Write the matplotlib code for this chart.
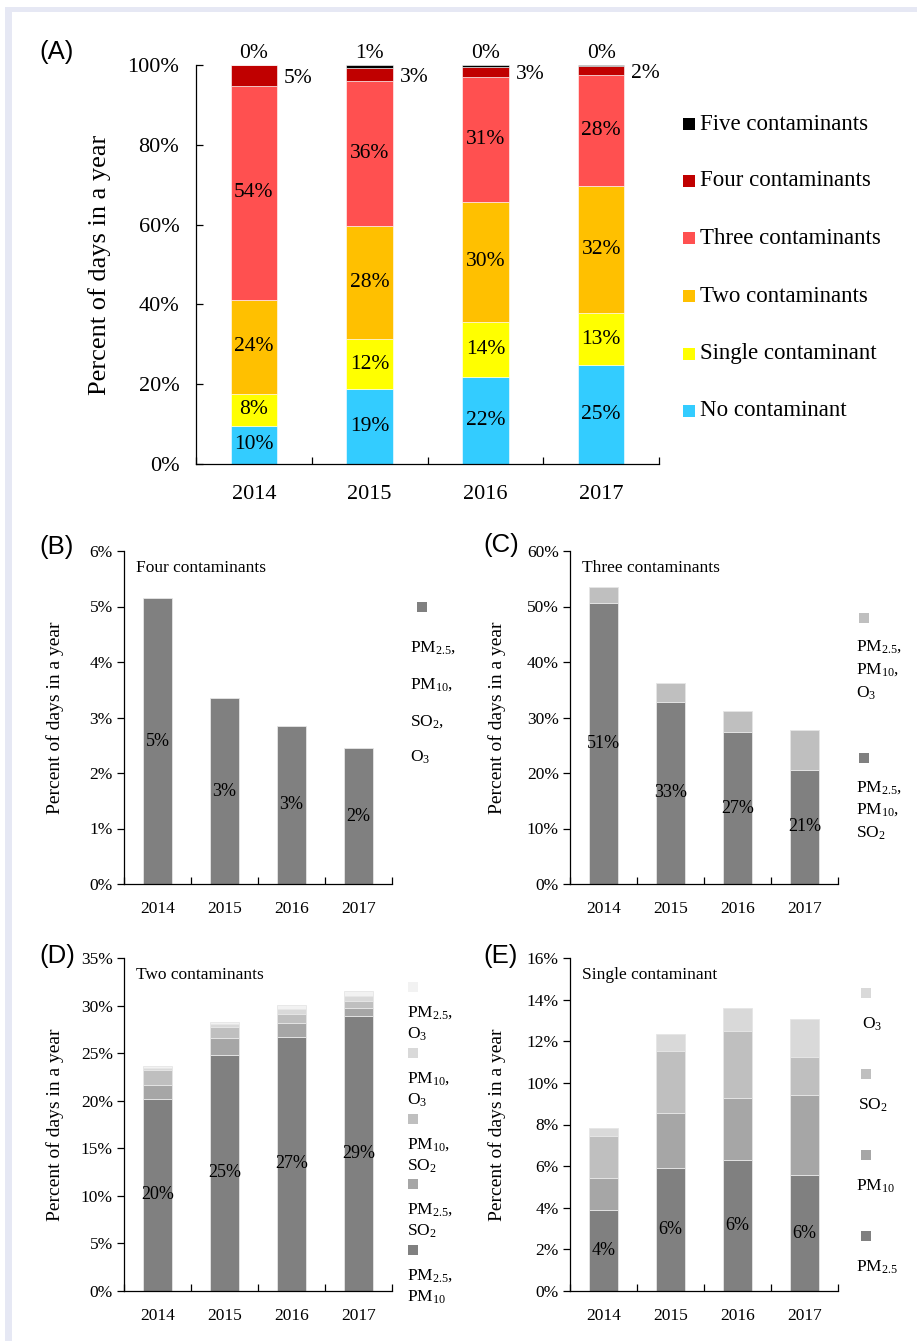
import matplotlib.pyplot as plt
import numpy as np
from matplotlib.patches import Rectangle
from matplotlib.ticker import PercentFormatter

plt.rcParams['font.family'] = 'Liberation Serif'
plt.rcParams['mathtext.default'] = 'regular'

years = ['2014', '2015', '2016', '2017']

# (A) share of days in each year by number of contaminants (%)
no_cont = [9.6, 18.8, 21.9, 24.7]
single_cont = [8.0, 12.5, 13.7, 13.2]
two_cont = [23.6, 28.3, 30.1, 31.8]
three_cont = [53.6, 36.4, 31.3, 27.7]
four_cont = [5.15, 3.2, 2.6, 2.45]
five_cont = [0.05, 0.8, 0.3, 0.15]

# (B) four contaminants
four_pm25_pm10_so2_o3 = [5.15, 3.35, 2.85, 2.45]

# (C) three contaminants
three_pm25_pm10_so2 = [50.6, 32.8, 27.3, 20.6]
three_pm25_pm10_o3 = [3.0, 3.4, 3.9, 7.1]

# (D) two contaminants
two_pm25_pm10 = [20.2, 24.85, 26.7, 28.95]
two_pm25_so2 = [1.5, 1.7, 1.5, 0.75]
two_pm10_so2 = [1.55, 1.15, 0.95, 0.75]
two_pm10_o3 = [0.2, 0.35, 0.45, 0.6]
two_pm25_o3 = [0.2, 0.2, 0.45, 0.5]

# (E) single contaminant
single_pm25 = [3.9, 5.9, 6.3, 5.55]
single_pm10 = [1.55, 2.65, 2.95, 3.85]
single_so2 = [2.0, 3.0, 3.25, 1.85]
single_o3 = [0.4, 0.8, 1.1, 1.8]

W, H = 917, 1341
fig = plt.figure(figsize=(W / 100, H / 100), dpi=100)


def box(l, t, r, b):
    return [l / W, 1 - b / H, (r - l) / W, (b - t) / H]


def ftext(x, y, s, **kw):
    fig.text(x / W, 1 - y / H, s, **kw)


def fsquare(xc, yc, size, color):
    fig.add_artist(Rectangle(((xc - size / 2) / W, 1 - (yc + size / 2) / H),
                             size / W, size / H, transform=fig.transFigure,
                             color=color, lw=0))


# page frame
fig.add_artist(Rectangle((5 / W, 0), 7 / W, 1 - 7 / H, transform=fig.transFigure,
                         color='#e6e8f4', lw=0))
fig.add_artist(Rectangle((5 / W, 1 - 12 / H), 1, 5 / H, transform=fig.transFigure,
                         color='#e6e8f4', lw=0))


def style(ax, ymax, ystep, ydir, fs, xpad, ypad):
    ax.set_xlim(-0.5, 3.5)
    ax.set_ylim(0, ymax)
    ax.spines[['top', 'right']].set_visible(False)
    for s in ['left', 'bottom']:
        ax.spines[s].set_linewidth(0.9)
    ax.set_xticks(range(4))
    ax.set_xticklabels(years)
    ax.tick_params(axis='x', which='major', length=0, labelsize=fs, pad=xpad)
    ax.set_xticks(np.arange(-0.5, 4, 1), minor=True)
    ax.tick_params(axis='x', which='minor', direction='in', length=5, width=0.9)
    ax.set_yticks(np.arange(0, ymax + ystep / 2, ystep))
    ax.yaxis.set_major_formatter(PercentFormatter(decimals=0))
    ax.tick_params(axis='y', direction=ydir, length=5, width=0.9, labelsize=fs, pad=ypad)


# ---- (A) ----
axA = fig.add_axes(box(196, 65, 659, 464))
style(axA, 100, 20, 'in', 16, 15, 12)
x = np.arange(4)
bottom = np.zeros(4)
seriesA = [
    (no_cont, '#33ccff', 'No contaminant'),
    (single_cont, '#ffff00', 'Single contaminant'),
    (two_cont, '#ffc000', 'Two contaminants'),
    (three_cont, '#ff5050', 'Three contaminants'),
    (four_cont, '#c00000', 'Four contaminants'),
    (five_cont, '#000000', 'Five contaminants'),
]
w = 0.4
for k, (vals, color, name) in enumerate(seriesA):
    vals = np.array(vals)
    axA.bar(x, vals, w, bottom=bottom, color=color, edgecolor='#ffffff', linewidth=0.4)
    for i in range(4):
        if k < 4:
            axA.text(i, bottom[i] + vals[i] / 2, f"{vals[i]:.0f}%", ha='center',
                     va='center', fontsize=15.5)
        elif k == 4:
            axA.annotate(f"{vals[i]:.0f}%", (i + w / 2, bottom[i] + vals[i] / 2 - 0.8),
                         xytext=(5, 0), textcoords='offset points', ha='left',
                         va='center', fontsize=15.5)
        else:
            axA.annotate(f"{vals[i]:.0f}%", (i, bottom[i] + vals[i]),
                         xytext=(0, 1.5), textcoords='offset points', ha='center',
                         va='bottom', fontsize=15.5)
    bottom += vals
axA.set_ylabel('Percent of days in a year', fontsize=19)
axA.yaxis.set_label_coords((111 - 196) / 463, 0.5)

leg_y = [411, 354, 296, 238, 181, 124]
for (vals, color, name), yy in zip(seriesA, leg_y):
    fsquare(689, yy, 12, color)
    ftext(700, yy, name, fontsize=16.5, va='center', ha='left')

ftext(39, 52, '(A)', family='Liberation Sans', fontsize=18.5, va='center')


def stacked(ax, parts, colors, w=0.42):
    bottom = np.zeros(4)
    for k, (vals, color) in enumerate(zip(parts, colors)):
        vals = np.array(vals)
        ax.bar(x, vals, w, bottom=bottom, color=color, edgecolor='#e6e6e6', linewidth=0.6)
        if k == 0:
            for i in range(4):
                ax.text(i, vals[i] / 2, f"{vals[i]:.0f}%", ha='center', va='center',
                        fontsize=13)
        bottom += vals


greys = ['#808080', '#a6a6a6', '#bfbfbf', '#d9d9d9', '#f2f2f2']

# ---- (B) ----
axB = fig.add_axes(box(124, 551, 392, 884))
style(axB, 6, 1, 'out', 12.5, 12, 3)
stacked(axB, [four_pm25_pm10_so2_o3], greys[:1])
axB.text(0.045, 0.95, 'Four contaminants', transform=axB.transAxes, fontsize=12.5,
         va='center')
axB.set_ylabel('Percent of days in a year', fontsize=14)
axB.yaxis.set_label_coords((64 - 124) / 268, 0.5)
ftext(39, 547, '(B)', family='Liberation Sans', fontsize=18.5, va='center')
fsquare(422, 607, 10, greys[0])
for yy, s in zip([648, 685, 722, 757], ['PM$_{2.5}$,', 'PM$_{10}$,', 'SO$_2$,', 'O$_3$']):
    ftext(410, yy, s, fontsize=12.5, va='center')

# ---- (C) ----
axC = fig.add_axes(box(570, 551, 838, 884))
style(axC, 60, 10, 'out', 12.5, 12, 3)
stacked(axC, [three_pm25_pm10_so2, three_pm25_pm10_o3], [greys[0], greys[2]])
axC.text(0.045, 0.95, 'Three contaminants', transform=axC.transAxes, fontsize=12.5,
         va='center')
axC.set_ylabel('Percent of days in a year', fontsize=14)
axC.yaxis.set_label_coords((506 - 570) / 268, 0.5)
ftext(483, 545, '(C)', family='Liberation Sans', fontsize=18.5, va='center')
fsquare(864, 618, 10, greys[2])
for yy, s in zip([647, 670, 693], ['PM$_{2.5}$,', 'PM$_{10}$,', 'O$_3$']):
    ftext(856, yy, s, fontsize=12.5, va='center')
fsquare(864, 758, 10, greys[0])
for yy, s in zip([788, 810, 833], ['PM$_{2.5}$,', 'PM$_{10}$,', 'SO$_2$']):
    ftext(856, yy, s, fontsize=12.5, va='center')

# ---- (D) ----
axD = fig.add_axes(box(124, 958, 392, 1291))
style(axD, 35, 5, 'out', 12.5, 12, 3)
stacked(axD, [two_pm25_pm10, two_pm25_so2, two_pm10_so2, two_pm10_o3, two_pm25_o3], greys)
axD.text(0.045, 0.95, 'Two contaminants', transform=axD.transAxes, fontsize=12.5,
         va='center')
axD.set_ylabel('Percent of days in a year', fontsize=14)
axD.yaxis.set_label_coords((64 - 124) / 268, 0.5)
ftext(39, 956, '(D)', family='Liberation Sans', fontsize=18.5, va='center')
legD = [
    (987, greys[4], ['PM$_{2.5}$,', 'O$_3$']),
    (1053, greys[3], ['PM$_{10}$,', 'O$_3$']),
    (1119, greys[2], ['PM$_{10}$,', 'SO$_2$']),
    (1184, greys[1], ['PM$_{2.5}$,', 'SO$_2$']),
    (1250, greys[0], ['PM$_{2.5}$,', 'PM$_{10}$']),
]
for yy, col, lines in legD:
    fsquare(413, yy, 10, col)
    ftext(407, yy + 26, lines[0], fontsize=12.5, va='center')
    ftext(407, yy + 47, lines[1], fontsize=12.5, va='center')

# ---- (E) ----
axE = fig.add_axes(box(570, 958, 838, 1291))
style(axE, 16, 2, 'out', 12.5, 12, 3)
stacked(axE, [single_pm25, single_pm10, single_so2, single_o3], greys[:4])
axE.text(0.045, 0.95, 'Single contaminant', transform=axE.transAxes, fontsize=12.5,
         va='center')
axE.set_ylabel('Percent of days in a year', fontsize=14)
axE.yaxis.set_label_coords((506 - 570) / 268, 0.5)
ftext(483, 956, '(E)', family='Liberation Sans', fontsize=18.5, va='center')
legE = [(993, greys[3], 'O$_3$', 862), (1074, greys[2], 'SO$_2$', 858),
        (1155, greys[1], 'PM$_{10}$', 856), (1236, greys[0], 'PM$_{2.5}$', 856)]
for yy, col, s, tx in legE:
    fsquare(866, yy, 10, col)
    ftext(tx, yy + 31, s, fontsize=12.5, va='center')

fig.savefig('out.png', dpi=100)
